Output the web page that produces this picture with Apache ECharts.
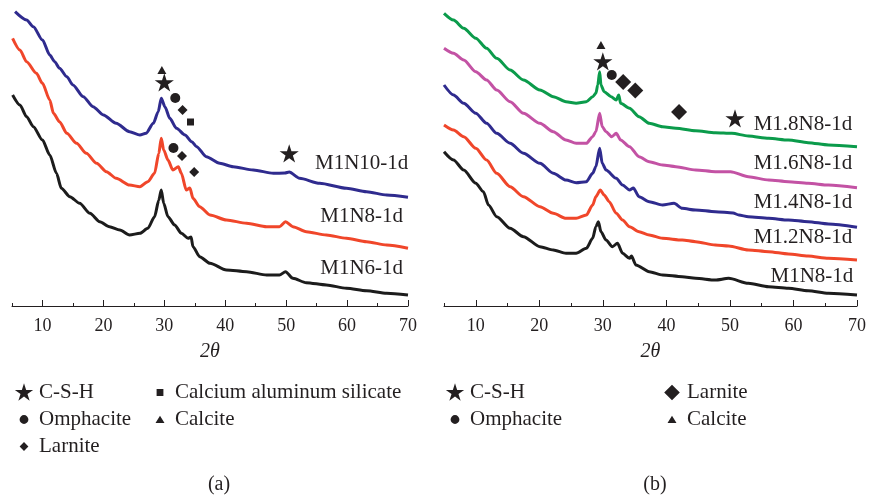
<!DOCTYPE html>
<html>
<head>
<meta charset="utf-8">
<script src="https://cdn.jsdelivr.net/npm/echarts@6/dist/echarts.min.js"></script>
<style>html,body{margin:0;padding:0;background:#fff}#c{width:869px;height:497px}</style>
</head>
<body>
<div id="c"></div>
<script>
// ---------- data (2θ, intensity a.u.) ----------
const tickLabels = [10, 20, 30, 40, 50, 60, 70];
const minorTicks = [5, 15, 25, 35, 45, 55, 65];

// panel (a)
const a_M1N10 = [[5.5,294.3],[7.4,286],[8.5,279.3],[10,266],[11.2,251],[12,244.3],[12.8,237.7],[14,229.3],[15,221],[16.7,209.3],[18.3,199.3],[20,191],[22.1,182.7],[24.3,174.3],[26,171],[27,172.7],[28.2,182.7],[29,194.3],[29.5,207.7],[30.1,199.3],[30.9,187.7],[32,177.7],[33.4,171],[34.5,164.3],[35.3,159.3],[36.9,149.3],[39.1,142.7],[41.3,139.3],[44.6,136],[47.9,132.7],[49.8,133],[50.5,134],[52.2,127.7],[55.5,122.7],[59.9,117.7],[63.2,114.3],[66.5,111],[70,108.7]];
const a_M1N8 = [[5.1,267.7],[6.3,256],[7.4,244.3],[9,232.7],[10,222.7],[11.2,206],[11.8,192.7],[12.8,184.3],[14,172.7],[15.6,162.7],[17.2,152.7],[18.9,142.7],[20.5,134.3],[22.1,127.7],[24.3,121],[26,119.3],[27.3,124.3],[28.4,132.7],[29.1,152.7],[29.5,167.7],[29.9,156],[30.6,146],[31.4,136],[32.3,139.3],[32.8,132.7],[33.6,116],[34.2,118],[34.7,107.7],[35.8,99.3],[37.5,91],[40.2,86],[43.5,82.7],[46.8,79.3],[48.9,79.3],[49.9,84.3],[51.1,79.3],[53.3,74.3],[56.6,71],[59.9,67.7],[63.2,64.3],[66.5,61],[70,57.7]];
const a_M1N6 = [[5.1,211],[6.3,201],[7.4,189.3],[8.5,179.3],[10,166],[11.2,151],[12.3,132.7],[13.1,117.7],[14.5,109.3],[16.1,102.7],[17.8,92.7],[19.4,84.3],[21,79.3],[22.7,76],[24.3,71],[26,72.7],[27.3,77.7],[28.4,89.3],[29.1,106],[29.5,116],[29.9,102.7],[30.6,89.3],[31.7,81],[32.8,72.7],[33.9,67.7],[34.4,69],[34.7,59.3],[35.8,49.3],[37.5,42.7],[40.2,36],[43.5,34.3],[46.8,31],[48.9,31],[49.9,34.3],[51.1,27.7],[53.3,23.3],[56.6,21],[59.9,17.7],[63.2,15.3],[66.5,12.7],[70,11]];

// panel (b)
const b_M18N8 = [[5,292.7],[6.5,286],[8.1,277.7],[10,267.7],[11.7,257.7],[13.3,247.7],[15.4,236],[17.5,226],[20.1,216],[22.2,209.3],[24.2,204.3],[25.8,202.7],[27.4,204.3],[28.4,209.3],[28.9,212.7],[29.2,221],[29.5,234.3],[29.7,221],[30.2,214.3],[31.3,209.3],[32.1,206],[32.5,211],[32.8,202.7],[34.2,197.7],[35.7,189.3],[37.3,182.7],[39.4,179.3],[41.5,177.7],[44.6,175.3],[47.7,173.3],[50.3,172.7],[52.9,170],[56.1,167.7],[59.2,166],[62.3,163.3],[65.5,161],[70,159.3]];
const b_M16N8 = [[5,257.7],[6.5,252.7],[8.1,246],[10,234.3],[11.7,226],[13.3,216],[15.4,204.3],[17.5,192.7],[20.1,182.7],[22.2,174.3],[24.2,166],[25.8,162.7],[27.4,162.7],[28.4,169.3],[28.9,174.3],[29.5,192.7],[29.9,179.3],[30.5,174.3],[31.4,169.3],[32.1,172.7],[32.8,166],[34.2,159.3],[35.7,149.3],[37.3,144.3],[39.4,141],[41.5,139.3],[44.6,136],[47.7,134.3],[50.1,134.3],[52.9,129.3],[56.1,126],[59.2,124.3],[62.3,122.7],[65.5,121],[70,118.3]];
const b_M14N8 = [[5,221],[6.5,211],[8.1,202.7],[10,192.7],[11.7,182.7],[13.3,172.7],[15.4,162.7],[17.5,152.7],[20.1,142.7],[22.2,132.7],[24.2,126],[25.8,123.3],[27.4,124.3],[28.4,132.7],[28.9,139.3],[29.5,157.7],[29.9,142.7],[30.5,136],[32.1,127.7],[33.1,121],[34.2,116],[34.8,118],[35.7,109.3],[37.3,104.3],[39.4,101],[41.2,102.7],[42.5,97.7],[44.6,96],[47.7,94.3],[50.5,93],[51.4,91],[52.9,89.3],[56.1,87.7],[59.2,86],[62.3,84.3],[65.5,82],[70,78.7]];
const b_M12N8 = [[5,181],[6.5,176],[8.1,169.3],[10,157.7],[11.7,146],[13.3,132.7],[15.4,119.3],[17.5,109.3],[20.1,99.3],[22.2,92.7],[24.2,87.7],[25.8,87.7],[27.4,91],[28.4,101],[28.9,109.3],[29.6,116],[30.2,111],[31,104.3],[32.1,92.7],[33.1,86],[34.2,79.3],[35.7,74.3],[37.3,71],[39.4,67.7],[42.5,66],[44.6,64.3],[47.7,61],[49.8,60],[52.9,56],[56.1,54.3],[59.2,52],[62.3,50],[65.5,47.7],[70,46]];
const b_M1N8 = [[5,154.3],[6.5,146],[8.1,136],[10,122.7],[11.2,114.3],[12,101],[13.3,89.3],[15.4,77.7],[17.5,69.3],[20.1,59.3],[22.2,56],[24.2,52.7],[25.8,52.7],[27.4,57.7],[28.4,67.7],[28.9,79.3],[29.3,84.3],[29.7,74.3],[30.5,66],[31.5,59.3],[32.3,62.7],[33.1,52.7],[34.2,47.7],[34.5,50],[35.2,41],[37.3,34.3],[39.4,31],[42.5,29.3],[44.6,27.7],[47.7,26],[49.8,27.7],[52.9,22.7],[56.1,19.3],[59.2,17.7],[62.3,15.3],[65.5,12.7],[70,11]];

// phase markers (2θ, intensity)
const a_CSH = [[30,223],[50.5,152]];
const a_Omph = [[31.8,208],[31.5,158]];
const a_Larn = [[33,196],[32.9,150],[34.9,134]];
const a_CAS = [[34.3,184]];
const a_Calc = [[29.6,236]];
const b_CSH = [[30,244],[50.8,187]];
const b_Omph = [[31.4,231]];
const b_Larn = [[33.2,224],[35.1,215.5],[42,194]];
const b_Calc = [[29.7,261]];

const namesA = ['M1N10-1d','M1N8-1d','M1N6-1d'];
const namesB = ['M1.8N8-1d','M1.6N8-1d','M1.4N8-1d','M1.2N8-1d','M1N8-1d'];
const phaseNames = ['C-S-H','Omphacite','Larnite','Calcium aluminum silicate','Calcite'];

// ---------- styling ----------
const FONT = 'Liberation Serif';
const INK = '#231f20';
const PAD = ' M0 0 L0.01 0 L0 0.01 Z M100 100 L99.99 100 L100 99.99 Z';
const STAR = 'path://M50 4 L60.76 37.2 L95.65 37.17 L67.4 57.65 L78.21 90.83 L50 70.3 L21.79 90.83 L32.6 57.65 L4.35 37.17 L39.24 37.2 Z' + PAD;
const circIcon = r => 'path://M' + (50 - r) + ' 50 A' + r + ' ' + r + ' 0 1 0 ' + (50 + r) + ' 50 A' + r + ' ' + r + ' 0 1 0 ' + (50 - r) + ' 50 Z' + PAD;
const diaIcon = h => 'path://M50 ' + (50 - h) + ' L' + (50 + h) + ' 50 L50 ' + (50 + h) + ' L' + (50 - h) + ' 50 Z' + PAD;
const sqIcon = h => 'path://M' + (50 - h) + ' ' + (50 - h) + ' L' + (50 + h) + ' ' + (50 - h) + ' L' + (50 + h) + ' ' + (50 + h) + ' L' + (50 - h) + ' ' + (50 + h) + ' Z' + PAD;
const triIcon = 'path://M50 31 L72.5 68 L27.5 68 Z' + PAD;

function xAxes(gi) {
  return [{
    gridIndex: gi, type: 'value', min: 5, max: 70, interval: 5, position: 'bottom',
    axisLine: { show: true, lineStyle: { color: INK, width: 1 } },
    axisTick: { show: true, inside: true, length: 6, customValues: tickLabels, lineStyle: { color: INK, width: 1 } },
    axisLabel: { customValues: tickLabels, fontFamily: FONT, fontSize: 18, color: INK, margin: 11 },
    splitLine: { show: false },
    name: '{n|2}{t|θ}', nameLocation: 'middle', nameGap: 36,
    nameTextStyle: { rich: { n: { fontFamily: FONT, fontSize: 20, color: INK, fontStyle: 'italic' }, t: { fontFamily: FONT, fontSize: 20, color: INK, fontStyle: 'italic' } } }
  }, {
    gridIndex: gi, type: 'value', min: 5, max: 70, interval: 5, position: 'bottom', offset: 0,
    axisLine: { show: false },
    axisTick: { show: true, inside: true, length: 3, customValues: minorTicks, lineStyle: { color: INK, width: 1 } },
    axisLabel: { show: false }, splitLine: { show: false }
  }];
}

function line(name, data, color, gi, lx, ly) {
  return {
    name: name, type: 'line', xAxisIndex: gi * 2, yAxisIndex: gi, data: data,
    showSymbol: false, symbol: 'none', smooth: 0.25, smoothMonotone: 'x', silent: true,
    lineStyle: { color: color, width: 3, join: 'round' },
    markPoint: {
      symbol: 'circle', symbolSize: 0, silent: true,
      data: [{ coord: [lx, ly], name: name }],
      label: { show: true, position: 'inside', formatter: name, fontFamily: FONT, fontSize: 21, color: INK }
    }
  };
}

function marks(name, data, symbol, size, gi) {
  return {
    name: name, type: 'scatter', xAxisIndex: gi * 2, yAxisIndex: gi, data: data,
    symbol: symbol, symbolSize: size, silent: true,
    itemStyle: { color: INK, opacity: 1 }
  };
}

const BLUE = '#2f2b8e', RED = '#f0462a', BLACK = '#1c1c1c', GREEN = '#0b9b4b', MAGENTA = '#c352a4';

const legendText = { fontFamily: FONT, fontSize: 21, color: INK };
function legend(left, itemTextGap, data) {
  return { orient: 'vertical', left: left, top: 382, itemWidth: 20, itemHeight: 20, itemGap: 6,
    itemTextGap: itemTextGap, selectedMode: false, textStyle: legendText, data: data, padding: 0 };
}

const option = {
  animation: false,
  backgroundColor: '#fff',
  textStyle: { fontFamily: FONT },
  grid: [
    { left: 12, top: 6, width: 396, height: 300 },
    { left: 444, top: 6, width: 415, height: 300 }
  ],
  xAxis: xAxes(0).concat(xAxes(1)),
  yAxis: [
    { gridIndex: 0, type: 'value', min: 0, max: 300, show: false },
    { gridIndex: 1, type: 'value', min: 0, max: 300, show: false }
  ],
  legend: [
    legend(14, 9, [{ name: phaseNames[0], icon: STAR }, { name: phaseNames[1], icon: circIcon(22) }, { name: phaseNames[2], icon: diaIcon(22) }]),
    legend(150, 10, [{ name: phaseNames[3], icon: sqIcon(17) }, { name: phaseNames[4], icon: triIcon }]),
    legend(445, 8, [{ name: phaseNames[0], icon: STAR }, { name: phaseNames[1], icon: circIcon(22) }]),
    legend(662, 8, [{ name: phaseNames[2], icon: diaIcon(39) }, { name: phaseNames[4], icon: triIcon }])
  ],
  title: [
    { text: '(a)', left: 214, top: 470, textAlign: 'center', textStyle: { fontFamily: FONT, fontSize: 20, fontWeight: 'normal', color: INK } },
    { text: '(b)', left: 650, top: 470, textAlign: 'center', textStyle: { fontFamily: FONT, fontSize: 20, fontWeight: 'normal', color: INK } }
  ],
  series: [
    line(namesA[0], a_M1N10, BLUE, 0, 62.4, 143),
    line(namesA[1], a_M1N8, RED, 0, 62.4, 90),
    line(namesA[2], a_M1N6, BLACK, 0, 62.4, 38),
    line(namesB[0], b_M18N8, GREEN, 1, 61.5, 182),
    line(namesB[1], b_M16N8, MAGENTA, 1, 61.5, 143),
    line(namesB[2], b_M14N8, BLUE, 1, 61.5, 104),
    line(namesB[3], b_M12N8, RED, 1, 61.5, 69),
    line(namesB[4], b_M1N8, BLACK, 1, 62.9, 30),
    marks(phaseNames[0], a_CSH, STAR, 21, 0),
    marks(phaseNames[1], a_Omph, 'circle', 10, 0),
    marks(phaseNames[2], a_Larn, 'diamond', 10, 0),
    marks(phaseNames[3], a_CAS, 'rect', 7, 0),
    marks(phaseNames[4], a_Calc, 'triangle', [9, 8], 0),
    marks(phaseNames[0], b_CSH, STAR, 21, 1),
    marks(phaseNames[1], b_Omph, 'circle', 10, 1),
    marks(phaseNames[2], b_Larn, 'diamond', 16, 1),
    marks(phaseNames[4], b_Calc, 'triangle', [9, 8], 1)
  ]
};

const chart = echarts.init(document.getElementById('c'), null, { renderer: 'canvas' });
chart.setOption(option);
</script>
</body>
</html>
